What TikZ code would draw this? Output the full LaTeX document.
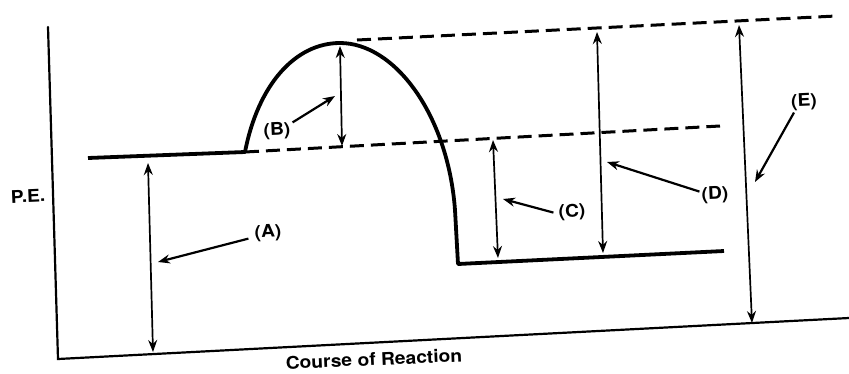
\documentclass[tikz,border=0pt]{standalone}
\usepackage{fontspec}
\setmainfont[FakeStretch=1.1]{TeX Gyre Heros}
\usetikzlibrary{arrows.meta}
\begin{document}
\begin{tikzpicture}[x=1pt,y=-1pt,
  lbl/.style={font=\fontsize{17.5}{20}\selectfont\bfseries, inner sep=0pt, rotate=2.5},
  axis/.style={line width=2.2pt, line cap=round},
  curve/.style={line width=3.8pt, line join=round},
  dline/.style={line width=3pt, dash pattern=on 14pt off 7pt},
  dim/.style={line width=1.7pt, {Stealth[length=12pt,width=9pt]}-{Stealth[length=12pt,width=9pt]}},
  ptr/.style={line width=2.2pt, -{Stealth[length=12pt,width=9pt]}}]
\useasboundingbox (0,0) rectangle (849,373);
% axes
\coordinate (ytop) at (48,27);
\coordinate (orig) at (58,359);
\coordinate (xend) at (849,318);
\draw[axis] (ytop) -- (orig) -- (xend);
% energy profile
\coordinate (r0) at (88,158);
\coordinate (r1) at (245,152);
\coordinate (pk) at (340,43);
\coordinate (p0) at (458,264);
\coordinate (p1) at (724,251);
\draw[curve] (r0) -- (r1) .. controls (258,85) and (295,43) .. (pk)
  .. controls (395,43) and (448,115) .. (455,210) -- (p0) -- (p1);
% dashed levels
\coordinate (d1a) at (357,40);
\coordinate (d1b) at (836,16);
\coordinate (d2b) at (720,126);
\draw[dline] (d1a) -- (d1b);
\draw[dline] (r1) -- (d2b);
% dimension arrows
\coordinate (a1) at (148,163); \coordinate (a2) at (153,352);
\coordinate (b1) at (340,46); \coordinate (b2) at (342,146);
\coordinate (c1) at (493,140); \coordinate (c2) at (498,258);
\coordinate (dd1) at (597,32); \coordinate (dd2) at (603,253);
\coordinate (e1) at (739,25); \coordinate (e2) at (752,323);
\draw[dim] (a1) -- (a2);
\draw[dim] (b1) -- (b2);
\draw[dim] (c1) -- (c2);
\draw[dim] (dd1) -- (dd2);
\draw[dim] (e1) -- (e2);
% labels
\node[lbl] (la) at (268,233) {(A)};
\node[lbl] (lb) at (277,131) {(B)};
\node[lbl] (lc) at (572,212) {(C)};
\node[lbl] (ld) at (715,195) {(D)};
\node[lbl] (le) at (804,102) {(E)};
\node[lbl] (pe) at (28,196) {P.E.};
\node[lbl] (cr) at (374,359) {Course of Reaction};
% pointers
\coordinate (ta) at (158,262);
\coordinate (tb) at (335,96);
\coordinate (tc) at (503,199);
\coordinate (td) at (607,162);
\coordinate (te) at (755,182);
\draw[ptr] (la.west) ++(-6,5) -- (ta);
\draw[ptr] (lb.east) ++(2,-8) -- (tb);
\draw[ptr] (lc.west) ++(-5,0) -- (tc);
\draw[ptr] (ld.west) ++(-2,-4) -- (td);
\draw[ptr] (le.west) ++(3,10) -- (te);
\end{tikzpicture}
\end{document}
